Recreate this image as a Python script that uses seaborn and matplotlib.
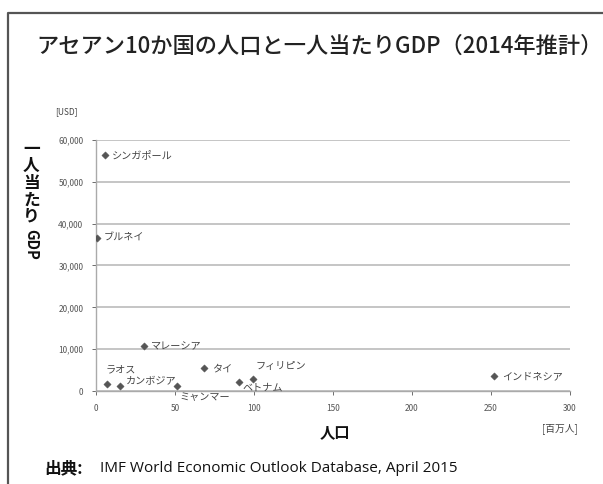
import matplotlib
matplotlib.use("Agg")
import matplotlib.pyplot as plt
import seaborn as sns
import pandas as pd
from matplotlib.lines import Line2D
from matplotlib.ticker import FuncFormatter

countries = ["シンガポール", "ブルネイ", "マレーシア", "ラオス", "カンボジア",
             "ミャンマー", "タイ", "フィリピン", "ベトナム", "インドネシア"]
population = [5.5, 0.4, 30.3, 6.8, 15.4, 51.4, 68.7, 99.4, 90.6, 252.2]
gdp_per_capita = [56300, 36600, 10800, 1700, 1100, 1200, 5500, 2900, 2050, 3500]
x_ticks = [0, 50, 100, 150, 200, 250, 300]
y_ticks = [0, 10000, 20000, 30000, 40000, 50000, 60000]

df = pd.DataFrame({"country": countries, "pop": population, "gdp": gdp_per_capita})

sns.set_theme(style="white")
plt.rcParams["font.family"] = ["Noto Sans CJK JP", "DejaVu Sans"]

fig = plt.figure(figsize=(6.03, 4.84), dpi=100)
ax = fig.add_axes([0.159, 0.192, 0.786, 0.519])

sns.scatterplot(data=df, x="pop", y="gdp", marker="D", s=14, color="#555555",
                edgecolor="#555555", linewidth=0.3, ax=ax, zorder=3)

# label offsets in pixels (styling only)
offsets = {
    "シンガポール": (7, 0),
    "ブルネイ": (7, 0),
    "マレーシア": (7, 0),
    "ラオス": (-1, 15),
    "カンボジア": (6, 5),
    "ミャンマー": (2, -11),
    "タイ": (8, 0),
    "フィリピン": (3, 13),
    "ベトナム": (3, -5),
    "インドネシア": (8, 0),
}
for c, xv, yv in zip(countries, population, gdp_per_capita):
    dx, dy = offsets[c]
    ax.annotate(c, (xv, yv), xytext=(dx, dy), textcoords="offset pixels",
                fontsize=7.3, color="#444444", ha="left", va="center")

ax.set_xlim(0, 300)
ax.set_ylim(0, 60000)
ax.set_xticks(x_ticks)
ax.set_yticks(y_ticks)
ax.yaxis.set_major_formatter(FuncFormatter(lambda v, p: f"{int(v):,}"))
ax.tick_params(axis="both", labelsize=6, colors="#555555", length=3, width=0.6,
               direction="out", bottom=True, left=True, pad=6)
ax.yaxis.grid(True, color="#bbbbbb", linewidth=1.2)
ax.xaxis.grid(False)
for s in ["top", "right"]:
    ax.spines[s].set_visible(False)
for s in ["left", "bottom"]:
    ax.spines[s].set_color("#aaaaaa")
    ax.spines[s].set_linewidth(1.0)
ax.set_xlabel("")
ax.set_ylabel("")

# titles and labels
fig.text(0.53, 0.905, "アセアン10か国の人口と一人当たりGDP（2014年推計）",
         ha="center", va="center", fontsize=16, fontweight="medium", color="#222222")
fig.text(0.052, 1 - 140 / 484, "一\n人\n当\nた\nり", ha="center", va="top",
         fontsize=12, fontweight="bold", color="#111111", linespacing=0.92)
fig.text(0.052, 1 - 229 / 484, "GDP", ha="center", va="top", rotation=270,
         fontsize=10.5, fontweight="bold", color="#111111")
fig.text(0.092, 0.77, "[USD]", ha="left", va="center", fontsize=6, color="#444444")
fig.text(0.555, 0.107, "人口", ha="center", va="center", fontsize=11,
         fontweight="bold", color="#111111")
fig.text(0.928, 0.115, "[百万人]", ha="center", va="center", fontsize=7, color="#444444")
fig.text(0.074, 0.033, "出典:", ha="left", va="center", fontsize=12,
         fontweight="bold", color="#111111")
fig.text(0.166, 0.033, "IMF World Economic Outlook Database, April 2015",
         ha="left", va="center", fontsize=11, color="#111111",
         family=["Open Sans", "DejaVu Sans"])

# outer frame (left and top edges)
fig.add_artist(Line2D([8 / 603, 8 / 603, 1.0], [0.0, 471 / 484, 471 / 484],
                      transform=fig.transFigure, color="#555555", linewidth=1.6))

fig.savefig("out.png", dpi=100)
